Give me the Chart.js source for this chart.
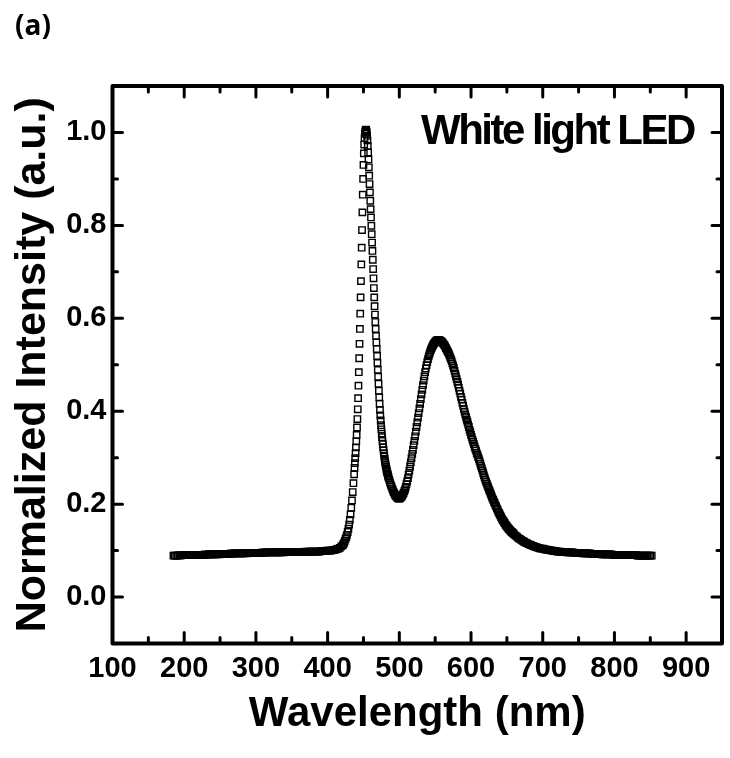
<!DOCTYPE html>
<html><head><meta charset="utf-8">
<script src="https://cdn.jsdelivr.net/npm/chart.js@4.4.0/dist/chart.umd.min.js"></script>
<style>html,body{margin:0;padding:0;background:#fff;}</style>
</head><body>
<canvas id="c" width="730" height="758"></canvas>
<script>
const panelLabel = '(a)';
const annotationText = 'White light LED';
const xTitle = 'Wavelength (nm)';
const yTitle = 'Normalized Intensity (a.u.)';
const xRange = [100, 950];
const yRange = [-0.1, 1.1];

const wavelengths = [
185,187,189,191,193,195,197,199,201,203,
205,207,209,211,213,215,217,219,221,223,
225,227,229,231,233,235,237,239,241,243,
245,247,249,251,253,255,257,259,261,263,
265,267,269,271,273,275,277,279,281,283,
285,287,289,291,293,295,297,299,301,303,
305,307,309,311,313,315,317,319,321,323,
325,327,329,331,333,335,337,339,341,343,
345,347,349,351,353,355,357,359,361,363,
365,367,369,371,373,375,377,379,381,383,
385,387,389,391,393,395,397,399,401,403,
405,407,409,411,413,415,417,419,
421,422,423,424,425,426,427,428,429,430,431,432,433,434,435,436,437,
437.5,438,438.5,439,439.5,440,440.5,441,441.5,442,
442.5,443,443.5,444,444.5,445,445.5,446,446.5,447,
447.5,448,448.5,449,449.5,450,450.5,451,451.5,452,
452.5,453,453.5,454,454.5,455,455.5,456,456.5,457,
457.5,458,458.5,459,459.5,460,460.5,461,461.5,462,
462.5,463,463.5,464,464.5,465,465.5,466,466.5,467,
467.5,468,468.5,469,469.5,470,
470.5,471,471.5,472,472.5,473,473.5,474,474.5,475,
475.5,476,476.5,477,477.5,478,478.5,479,479.5,480,
480.5,481,481.5,482,482.5,483,483.5,484,484.5,485,
486,487,488,489,490,491,492,493,494,495,496,497,498,499,
500,501,502,503,504,505,506,507,508,509,
510,511,512,513,514,515,516,517,518,519,
520,521,522,523,524,525,526,527,528,529,
530,531,532,533,534,535,536,537,538,539,
540,541,542,543,544,545,546,547,548,549,
550,551,552,553,554,555,556,557,558,559,
560,561,562,563,564,565,566,567,568,569,
570,571,572,573,574,575,576,577,578,579,
580,581,582,583,584,585,586,587,588,589,
590,591,592,593,594,595,596,597,598,599,
600,601,602,603,604,605,606,607,608,609,
610,611,612,613,614,615,616,617,618,619,
620,621,622,623,624,625,626,627,628,629,
630,631,632,633,634,635,636,637,638,639,
640,641,642,643,644,645,646,647,648,649,
650,651,652,653,654,655,656,657,658,659,
660,
662,664,666,668,670,672,674,676,678,680,
682,684,686,688,690,692,694,696,698,700,
702,704,706,708,710,712,714,716,718,720,
722,724,726,728,730,732,734,736,738,740,
742,744,746,748,750,752,754,756,758,760,
762,764,766,768,770,772,774,776,778,780,
782,784,786,788,790,792,794,796,798,800,
802,804,806,808,810,812,814,816,818,820,
822,824,826,828,830,832,834,836,838,840,
842,844,846,848,850,852
];

const intensity = [
0.089,0.089,0.089,0.089,0.090,0.089,0.090,0.090,0.090,0.090,
0.090,0.090,0.090,0.091,0.090,0.091,0.091,0.091,0.091,0.091,
0.091,0.091,0.092,0.091,0.092,0.092,0.092,0.092,0.092,0.092,
0.092,0.093,0.092,0.093,0.093,0.093,0.093,0.093,0.093,0.093,
0.094,0.093,0.094,0.094,0.094,0.094,0.094,0.094,0.094,0.094,
0.095,0.094,0.095,0.095,0.095,0.095,0.095,0.095,0.095,0.095,
0.095,0.095,0.096,0.095,0.096,0.096,0.096,0.096,0.096,0.096,
0.096,0.096,0.096,0.096,0.096,0.096,0.097,0.096,0.097,0.097,
0.097,0.097,0.097,0.097,0.097,0.097,0.097,0.097,0.097,0.097,
0.097,0.097,0.098,0.097,0.098,0.098,0.098,0.098,0.098,0.098,
0.098,0.098,0.098,0.099,0.099,0.099,0.099,0.100,0.100,0.100,
0.100,0.101,0.101,0.102,0.103,0.104,0.106,0.109,
0.111,0.114,0.117,0.121,0.125,0.129,0.134,0.140,0.147,0.156,0.166,0.178,0.192,0.208,0.226,0.245,0.264,
0.278,0.288,0.299,0.310,0.322,0.335,0.349,0.365,0.383,0.404,
0.428,0.455,0.484,0.514,0.545,0.577,0.610,0.645,0.680,0.716,
0.752,0.790,0.828,0.866,0.900,0.930,0.955,0.974,0.988,0.997,
1.002,1.005,1.006,1.004,1.000,0.993,0.983,0.971,0.957,0.942,
0.925,0.907,0.889,0.871,0.853,0.835,0.817,0.799,0.781,0.763,
0.745,0.726,0.706,0.686,0.665,0.645,0.626,0.608,0.592,0.577,
0.562,0.548,0.534,0.519,0.504,0.489,
0.474,0.459,0.444,0.430,0.416,0.403,0.391,0.380,0.370,0.361,
0.352,0.344,0.336,0.329,0.322,0.316,0.310,0.304,0.298,0.293,
0.288,0.284,0.280,0.276,0.272,0.269,0.266,0.263,0.260,0.257,
0.252,0.247,0.242,0.238,0.234,0.230,0.226,0.223,0.220,0.218,0.216,0.214,0.213,0.212,
0.212,0.213,0.214,0.216,0.218,0.221,0.224,0.228,0.232,0.237,
0.243,0.249,0.256,0.264,0.272,0.281,0.290,0.299,0.308,0.317,
0.327,0.336,0.346,0.356,0.366,0.376,0.386,0.396,0.406,0.416,
0.426,0.436,0.446,0.456,0.466,0.475,0.484,0.492,0.499,0.506,
0.512,0.518,0.523,0.528,0.532,0.536,0.539,0.542,0.545,0.547,
0.549,0.551,0.552,0.553,0.553,0.553,0.553,0.552,0.551,0.550,
0.548,0.546,0.544,0.542,0.539,0.536,0.533,0.530,0.527,0.524,
0.520,0.516,0.512,0.508,0.503,0.498,0.493,0.487,0.481,0.475,
0.469,0.463,0.457,0.451,0.444,0.438,0.431,0.425,0.418,0.412,
0.405,0.399,0.393,0.388,0.382,0.377,0.371,0.366,0.360,0.355,
0.349,0.344,0.339,0.334,0.329,0.324,0.319,0.315,0.310,0.306,
0.301,0.297,0.292,0.287,0.282,0.277,0.272,0.267,0.262,0.257,
0.252,0.248,0.244,0.240,0.236,0.232,0.228,0.224,0.220,0.216,
0.212,0.209,0.205,0.202,0.198,0.195,0.191,0.188,0.184,0.181,
0.178,0.175,0.172,0.169,0.166,0.164,0.161,0.159,0.156,0.154,
0.152,0.150,0.148,0.146,0.144,0.143,0.141,0.140,0.138,0.137,
0.135,
0.132,0.130,0.127,0.125,0.123,0.121,0.119,0.117,0.116,0.114,
0.113,0.112,0.110,0.109,0.108,0.107,0.106,0.105,0.104,0.104,
0.103,0.102,0.102,0.101,0.101,0.100,0.100,0.099,0.099,0.098,
0.098,0.098,0.097,0.097,0.097,0.097,0.096,0.096,0.096,0.096,
0.096,0.095,0.095,0.095,0.095,0.095,0.095,0.094,0.094,0.094,
0.094,0.094,0.094,0.093,0.093,0.093,0.093,0.093,0.093,0.093,
0.092,0.092,0.092,0.092,0.092,0.092,0.092,0.092,0.091,0.091,
0.091,0.091,0.091,0.091,0.091,0.091,0.090,0.090,0.090,0.090,
0.090,0.090,0.090,0.090,0.090,0.089,0.089,0.089,0.089,0.089,
0.089,0.089,0.089,0.089,0.089,0.089
];

const points = wavelengths.map((w, i) => ({ x: w, y: intensity[i] }));
const FONT = "'Liberation Sans', Arial, sans-serif";

const framePlugin = {
  id: 'frame',
  afterDatasetsDraw(chart) {
    const { ctx, chartArea: { left, right, top, bottom }, scales: { x, y } } = chart;
    ctx.save();
    ctx.strokeStyle = '#000';
    ctx.lineWidth = 4;
    ctx.lineJoin = 'round';
    ctx.strokeRect(left, top, right - left, bottom - top);
    ctx.lineWidth = 3;
    ctx.lineCap = 'round';
    const seg = (x1, y1, x2, y2) => { ctx.beginPath(); ctx.moveTo(x1, y1); ctx.lineTo(x2, y2); ctx.stroke(); };
    x.ticks.forEach(t => {
      const px = x.getPixelForValue(t.value);
      if (px <= left + 2 || px >= right - 2) return;
      const len = Math.round(t.value) % 100 === 0 ? 11 : 6;
      seg(px, bottom, px, bottom - len);
      seg(px, top, px, top + len);
    });
    y.ticks.forEach(t => {
      const py = y.getPixelForValue(t.value);
      if (py <= top + 2 || py >= bottom - 2) return;
      const len = Math.round(t.value * 10) % 2 === 0 ? 10 : 5;
      seg(left, py, left + len, py);
      seg(right, py, right - len, py);
    });
    ctx.restore();
  },
  afterDraw(chart) {
    const { ctx } = chart;
    ctx.save();
    ctx.fillStyle = '#000';
    ctx.textBaseline = 'alphabetic';
    ctx.textAlign = 'left';
    ctx.font = "bold 42px " + FONT;
    ctx.letterSpacing = '-2.5px';
    ctx.fillText(annotationText, 421, 144);
    ctx.letterSpacing = '0px';
    ctx.font = "bold 28px 'Open Sans', sans-serif";
    ctx.fillText(panelLabel, 15, 35);
    ctx.restore();
  }
};

new Chart(document.getElementById('c'), {
  type: 'scatter',
  data: {
    datasets: [{
      data: points,
      pointStyle: 'rect',
      pointRadius: 4.5,
      pointHoverRadius: 4.5,
      borderWidth: 1.4,
      borderColor: '#000',
      backgroundColor: 'rgba(0,0,0,0)',
      showLine: false
    }]
  },
  options: {
    responsive: false,
    animation: false,
    devicePixelRatio: 1,
    layout: { padding: { top: 86, right: 4, left: 0, bottom: 0 } },
    plugins: { legend: { display: false }, tooltip: { enabled: false } },
    scales: {
      x: {
        type: 'linear',
        min: xRange[0], max: xRange[1],
        grid: { display: false, drawTicks: false },
        border: { display: false },
        ticks: {
          stepSize: 50, autoSkip: false, maxRotation: 0, padding: 8,
          color: '#000',
          font: { family: FONT, size: 29, weight: 'bold' },
          callback: v => (Math.round(v) % 100 === 0 ? String(Math.round(v)) : '')
        },
        title: {
          display: true, text: xTitle, color: '#000',
          font: { family: FONT, size: 42, weight: 'bold' },
          padding: { top: 0, bottom: 18 }
        },
        afterFit: s => { s.height = 114.5; }
      },
      y: {
        min: yRange[0], max: yRange[1],
        grid: { display: false, drawTicks: false },
        border: { display: false },
        ticks: {
          stepSize: 0.1, autoSkip: false, padding: 6,
          color: '#000',
          font: { family: FONT, size: 29, weight: 'bold' },
          callback: v => (Math.round(v * 10) % 2 === 0 ? (Math.round(v * 10) / 10).toFixed(1) : '')
        },
        title: {
          display: true, text: yTitle, color: '#000',
          font: { family: FONT, size: 43, weight: 'bold' },
          padding: { top: 7, bottom: 0 }
        },
        afterFit: s => { s.width = 112.5; }
      }
    }
  },
  plugins: [framePlugin]
});
</script>
</body></html>
